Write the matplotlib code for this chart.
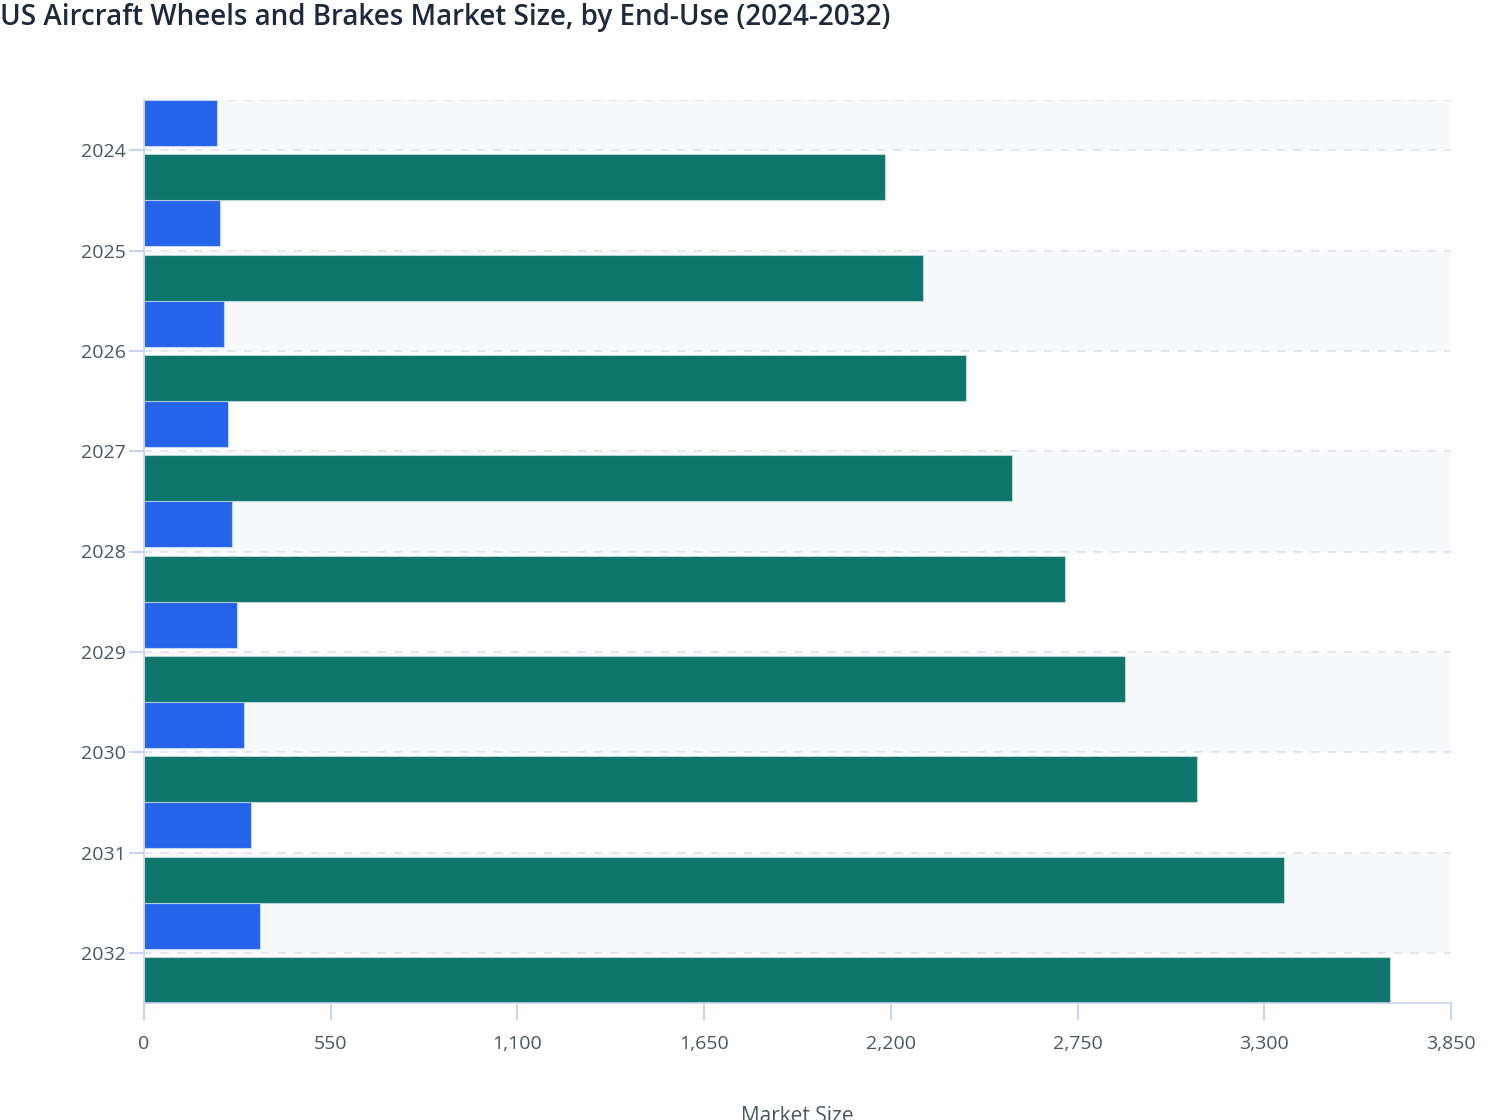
import numpy as np
import matplotlib.pyplot as plt

plt.rcParams['font.family'] = ['Open Sans', 'DejaVu Sans']

# data
years = ['2024', '2025', '2026', '2027', '2028', '2029', '2030', '2031', '2032']
oem = [215, 225, 236, 247, 260, 275, 294, 316, 343]
aftermarket = [2182, 2296, 2420, 2557, 2712, 2891, 3103, 3358, 3669]
x_ticks = [0, 550, 1100, 1650, 2200, 2750, 3300, 3850]

fig = plt.figure(figsize=(15.08, 11.2), dpi=100)
ax = fig.add_axes([144 / 1508, 1 - 1003 / 1120, 1307 / 1508, 903 / 1120])

pos = np.arange(len(years))
bar_h = 0.46

# alternating bands
band_color = '#f8f9fb'
ax.axhspan(-0.5, 0, color=band_color, zorder=0, lw=0)
for i in range(1, len(years) - 1, 2):
    ax.axhspan(i, i + 1, color=band_color, zorder=0, lw=0)

# dashed grid
for y in [-0.5] + list(pos):
    ax.axhline(y, color='#e3e6ec', lw=1.5, ls=(0, (4, 4)), zorder=1)

ax.barh(pos - 0.27, oem, height=bar_h, color='#2563eb',
        edgecolor=(0.85, 0.9, 1.0, 0.7), lw=0.8, zorder=2, label='OEM')
ax.barh(pos + 0.27, aftermarket, height=bar_h, color='#0f766e',
        edgecolor=(0.85, 0.9, 0.95, 0.6), lw=0.8, zorder=2, label='Aftermarket')

ax.set_xlim(0, 3850)
ax.set_ylim(8.5, -0.5)
ax.set_yticks(pos)
ax.set_yticklabels(years)
ax.set_xticks(x_ticks)
ax.set_xticklabels([f'{v:,}' for v in x_ticks])

spine_color = '#c9d3f2'
for s in ['top', 'right']:
    ax.spines[s].set_visible(False)
for s in ['left', 'bottom']:
    ax.spines[s].set_color(spine_color)
    ax.spines[s].set_linewidth(1.2)

ax.tick_params(axis='y', colors=spine_color, labelcolor='#4b5563',
               length=11, width=1.5, pad=2, labelsize=14)
ax.tick_params(axis='x', colors=spine_color, labelcolor='#4b5563',
               length=12, width=1.5, pad=11, labelsize=14)

fig.text(0.0, 1 - 18 / 1120, 'US Aircraft Wheels and Brakes Market Size, by End-Use (2024-2032)',
         ha='left', va='center', fontsize=20, fontweight='semibold', color='#1e293b')
fig.text(797.5 / 1508, 1 - 1116 / 1120, 'Market Size', ha='center', va='center',
         fontsize=15, color='#4b5563')

fig.savefig('out.png', dpi=100)
